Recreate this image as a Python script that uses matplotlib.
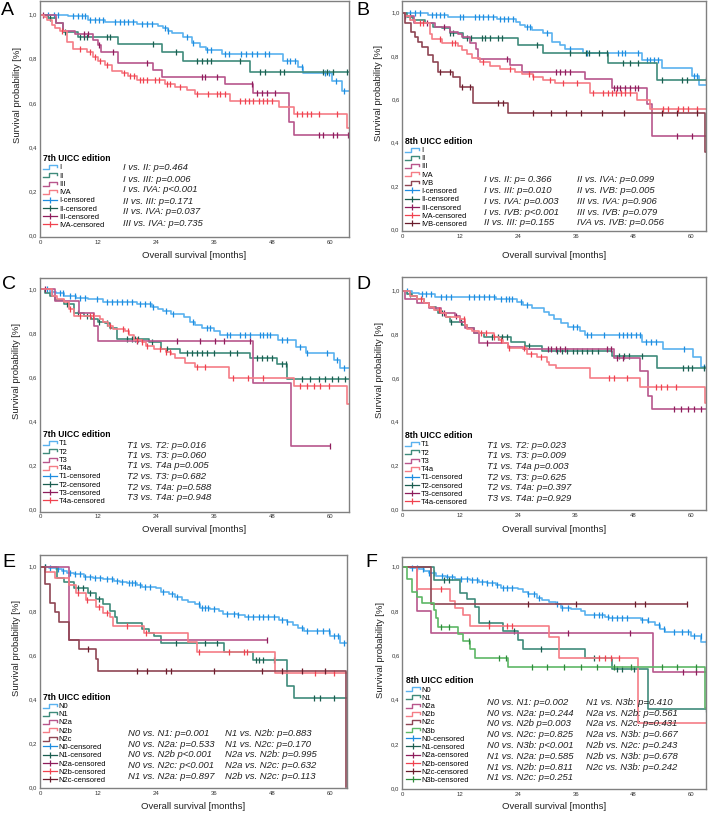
import numpy as np
import matplotlib
matplotlib.use('Agg')
import matplotlib.pyplot as plt
from matplotlib.lines import Line2D
from matplotlib.legend_handler import HandlerBase
from matplotlib.ticker import FuncFormatter

plt.rcParams['font.family'] = ['Liberation Sans', 'DejaVu Sans']

# ---------------- A: 7th UICC, stage ----------------
a_labels = ['I', 'II', 'III', 'IVA']
a_i_t = [5.8, 9.9, 13.4, 20, 24.4, 25.5, 26.5, 27.2, 29.6, 31.4, 33.1, 34.3, 37.6, 50.3, 53.4, 54.4, 60.3, 62.4]
a_i_s = [0.994, 0.976, 0.968, 0.958, 0.949, 0.938, 0.928, 0.916, 0.90, 0.87, 0.855, 0.84, 0.822, 0.791, 0.764, 0.737, 0.699, 0.655]
a_i_c = [1.7, 2.8, 3.8, 6.9, 7.9, 8.7, 9.3, 10.3, 11.4, 12.2, 13.0, 15.5, 16.6, 17.4, 18.3, 19.2, 21.1, 22.1, 23.2,
         25.9, 26.5, 30.3, 31.6, 34.5, 35.3, 38.3, 39.1, 41.5, 42.6, 43.8, 44.9, 46.6, 47.4, 51, 51.7, 52.8, 54.1,
         59, 59.8, 61.3, 62.9]
a_ii_t = [1.7, 3.3, 4.8, 7.9, 16.1, 25.2, 29.5, 43.5]
a_ii_s = [0.984, 0.961, 0.92, 0.897, 0.867, 0.832, 0.791, 0.738]
a_ii_c = [2.1, 5.2, 8.3, 9.0, 9.8, 13.8, 14.5, 23.4, 28.1, 32.4, 33.5, 34.5, 35.3, 41.4, 45.5, 46.6, 49.7, 50.5,
          58.6, 59.4, 60.6, 63.5]
a_iii_t = [3.4, 4.8, 7.2, 11, 12, 12.7, 16.1, 23.4, 25.2, 38.3, 44.1, 51.4, 52.6]
a_iii_s = [0.963, 0.927, 0.911, 0.885, 0.862, 0.832, 0.779, 0.749, 0.718, 0.684, 0.646, 0.514, 0.454]
a_iii_c = [0.7, 9, 10, 12.3, 15, 22.1, 33.5, 34.1, 36.5, 43.8, 44.8, 45.9, 47, 48.6, 57.6, 58.5, 60.6, 61.4, 63.6]
a_iva_t = [0.8, 1.4, 2.4, 3.1, 4.1, 5.5, 6.9, 9.7, 11, 12, 13.4, 14.8, 16.9, 18.2, 20, 25.8, 27.9, 30.3, 32,
           39.3, 49.5, 52.6, 63.5]
a_iva_s = [0.99, 0.976, 0.953, 0.938, 0.927, 0.877, 0.843, 0.832, 0.809, 0.791, 0.772, 0.746, 0.734, 0.722,
           0.703, 0.685, 0.670, 0.658, 0.640, 0.608, 0.579, 0.548, 0.487]
a_iva_c = [4.5, 8.3, 10.3, 11.4, 12.4, 13.8, 17.3, 18.6, 19.4, 20.7, 21.4, 22.1, 23.8, 24.6, 26.2, 26.9, 29,
           32.5, 34.8, 36.6, 37.2, 38.3, 41.4, 42.4, 43.3, 44.1, 45.2, 46.1, 47, 47.9, 53.2, 54.1, 55.2, 56,
           57.6, 61.4]
a_ends = [64, 64, 64, 64]
a_pvals = [['I vs. II: p=0.464', 'I vs. III: p=0.006', 'I vs. IVA: p<0.001',
            'II vs. III: p=0.171', 'II vs. IVA: p=0.037', 'III vs. IVA: p=0.735']]

# ---------------- B: 8th UICC, stage ----------------
b_labels = ['I', 'II', 'III', 'IVA', 'IVB']
b_i_t = [5.4, 9.5, 19.6, 23.7, 24.5, 25.5, 27, 29.3, 31, 32.7, 33.8, 37.6, 49.7, 53.9, 60.1, 61.5]
b_i_s = [0.989, 0.982, 0.971, 0.958, 0.943, 0.935, 0.92, 0.905, 0.866, 0.851, 0.831, 0.812, 0.782, 0.746, 0.708, 0.666]
b_i_c = [1.6, 2.6, 3.7, 6.1, 7, 7.8, 8.7, 12, 12.6, 15.1, 16, 16.8, 17.8, 18.8, 20.3, 21.1, 22, 23, 25.8, 26.5,
         30, 34.8, 38.3, 44.8, 45.5, 46.2, 49, 50.7, 51.4, 52.2, 53.1, 60.6, 61.1]
b_ii_t = [0.9, 2.3, 4.7, 6.4, 8.2, 9.9, 12.7, 24.1, 29.3, 42.8, 52.8]
b_ii_s = [0.982, 0.966, 0.951, 0.935, 0.928, 0.905, 0.882, 0.851, 0.815, 0.769, 0.689]
b_ii_c = [1.6, 9.9, 10.6, 13.4, 14.3, 16.5, 17.2, 18.2, 19.9, 20.6, 27.9, 34.8, 38.1, 38.8, 40.9, 42.5, 45.9,
          47.3, 49, 53.9, 58, 59, 63]
b_iii_t = [0.5, 2.5, 6.8, 9.9, 11.6, 12.3, 14.1, 15.2, 15.8, 22.4, 24.8, 37.9, 43.5, 50.7, 51.8]
b_iii_s = [0.985, 0.951, 0.935, 0.912, 0.9, 0.886, 0.862, 0.831, 0.785, 0.758, 0.728, 0.692, 0.651, 0.58, 0.43]
b_iii_c = [0.6, 5.1, 8.6, 21.7, 31.8, 32.7, 33.8, 34.8, 43.9, 44.6, 45.2, 46.2, 47.2, 48.3, 49, 57, 60.1]
b_iva_t = [0.6, 1.6, 2.6, 5.7, 6.1, 8.2, 11.6, 12.3, 13.4, 14.4, 16.1, 18.2, 20.3, 23.4, 24.8, 27.1, 29.3,
           31.7, 39, 48.7, 51.4]
b_iva_s = [0.985, 0.966, 0.951, 0.9, 0.878, 0.862, 0.846, 0.828, 0.808, 0.789, 0.774, 0.754, 0.74, 0.728,
           0.716, 0.705, 0.689, 0.677, 0.628, 0.597, 0.554]
b_iva_c = [3.7, 4.3, 7.8, 10.3, 10.9, 16.8, 22.4, 26.2, 27.1, 30.7, 33.4, 36.2, 39.5, 41.7, 42.6, 43.5, 44.4,
           45.3, 46.2, 47.3, 54.2, 55.2, 57.3, 58.2, 59.2, 61.1]
b_ivb_t = [0.6, 1.9, 2.6, 3.3, 4, 5.4, 6.4, 7.5, 10.6, 12, 14.7, 22, 62.9]
b_ivb_s = [0.951, 0.912, 0.89, 0.866, 0.843, 0.805, 0.774, 0.728, 0.705, 0.658, 0.582, 0.535, 0.358]
b_ivb_c = [7.8, 9.9, 12.3, 14.1, 19.9, 20.8, 27.2, 30.8, 33.9, 37, 41.5, 46, 54, 57.1, 61.2]
b_ends = [64, 64, 64, 64, 64]
b_pvals = [['I vs. II: p= 0.366', 'I vs. III: p=0.010', 'I vs. IVA: p=0.003', 'I vs. IVB: p<0.001',
            'II vs. III: p=0.155'],
           ['II vs. IVA: p=0.099', 'II vs. IVB: p=0.005', 'III vs. IVA: p=0.906', 'III vs. IVB: p=0.079',
            'IVA vs. IVB: p=0.056']]

# ---------------- C: 7th UICC, T ----------------
c_labels = ['T1', 'T2', 'T3', 'T4a']
c_t1_t = [2.1, 3.4, 5, 7.5, 9.9, 13.1, 20, 23.1, 24.5, 25.5, 27.1, 29.7, 31, 32.1, 33.4, 35.9, 37.2, 49.2, 53,
          55, 60.7, 62.1]
c_t1_s = [0.989, 0.982, 0.97, 0.962, 0.955, 0.941, 0.932, 0.917, 0.91, 0.9, 0.889, 0.875, 0.853, 0.838, 0.823,
          0.811, 0.792, 0.77, 0.739, 0.71, 0.677, 0.641]
c_t1_c = [1.4, 2.4, 4.1, 4.8, 6.2, 7.2, 8.3, 9.3, 11.7, 13.8, 14.8, 15.9, 16.9, 17.9, 19, 20.7, 21.7, 22.8,
          23.4, 26, 27.6, 31.7, 34.5, 35.2, 38.6, 39.3, 41.4, 42.4, 43.4, 45.5, 46.2, 46.9, 47.6, 50, 51, 53.8,
          55.2, 59.3, 61.5, 62.9]
c_t2_t = [1, 2, 3, 5, 7, 9, 10.5, 12, 13.5, 14.5, 16, 22.5, 25, 29, 43.5, 49, 51]
c_t2_s = [0.982, 0.97, 0.952, 0.932, 0.891, 0.879, 0.864, 0.853, 0.845, 0.823, 0.773, 0.761, 0.729, 0.709,
          0.686, 0.661, 0.591]
c_t2_c = [5.5, 7.9, 9.7, 12.1, 13.8, 17.9, 19, 19.7, 20.3, 23.1, 26.2, 30.3, 31.4, 32.4, 33.4, 34.5, 35.9,
          39.3, 40.7, 44.8, 45.9, 46.9, 47.9, 50, 50.9, 54.1, 55.9, 57.6, 59, 60.3, 61.7, 63.1]
c_t3_t = [3, 8, 11.2, 12, 44, 52]
c_t3_s = [0.945, 0.891, 0.833, 0.767, 0.576, 0.288]
c_t3_c = [1, 20, 28.3, 33.1, 36.2, 38.1, 43.4, 60]
c_t4a_t = [2.5, 3.5, 5, 6, 7, 12.5, 13, 14, 15, 17.5, 18.5, 19.5, 21, 22, 23.5, 26, 27, 28, 30, 32, 39, 52.5, 63.5]
c_t4a_s = [0.97, 0.955, 0.944, 0.909, 0.879, 0.865, 0.853, 0.833, 0.818, 0.808, 0.792, 0.77, 0.758, 0.742,
           0.729, 0.717, 0.706, 0.686, 0.664, 0.648, 0.595, 0.561, 0.479]
c_t4a_c = [6.2, 8.3, 10.3, 11, 14.5, 17.2, 18.3, 20, 21, 22.1, 24.8, 26, 26.9, 32.4, 34.1, 40, 43.1, 46.2,
           53.8, 55.2, 56.6, 57.9, 59.7]
c_ends = [64, 64, 60, 64]
c_pvals = [['T1 vs. T2: p=0.016', 'T1 vs. T3: p=0.060', 'T1 vs. T4a p=0.005', 'T2 vs. T3: p=0.682',
            'T2 vs. T4a: p=0.588', 'T3 vs. T4a: p=0.948']]

# ---------------- D: 8th UICC, T ----------------
d_labels = ['T1', 'T2', 'T3', 'T4a']
d_t1_t = [2.1, 3.5, 6.9, 19.4, 23.9, 25, 27, 29.5, 30.5, 31.6, 32.9, 34.5, 37, 38, 49.9, 54.1, 60.5, 62.1]
d_t1_s = [0.991, 0.983, 0.973, 0.96, 0.95, 0.934, 0.919, 0.904, 0.889, 0.869, 0.85, 0.835, 0.815, 0.797,
          0.766, 0.731, 0.695, 0.652]
d_t1_c = [1, 4, 4.9, 5.9, 8, 9, 10.1, 13.9, 14.9, 15.9, 17, 18, 19.1, 20.5, 21.5, 22.2, 22.9, 24.6, 26, 35.4,
          36.4, 38.5, 39.3, 42, 45.1, 45.8, 46.7, 47.5, 48.5, 49.4, 50.6, 51.7, 52.7, 58.6, 62.8]
d_t2_t = [1, 2, 3, 4.5, 5.5, 7, 7.5, 9, 10, 12.5, 13.5, 15, 17, 22.5, 25.5, 29, 43.5, 53]
d_t2_s = [0.985, 0.975, 0.96, 0.942, 0.927, 0.91, 0.896, 0.881, 0.858, 0.843, 0.827, 0.805, 0.789, 0.766,
          0.747, 0.725, 0.701, 0.644]
d_t2_c = [1.5, 8.3, 10.1, 12.1, 18.7, 19.8, 20.8, 21.8, 26.4, 32.2, 33.3, 34.3, 35.4, 36.4, 37.4, 38.5, 39.5,
          40.6, 45.1, 46.1, 47.2, 49.9, 58.3, 59.3, 60.3, 62.8]
d_t3_t = [0.5, 3, 5.5, 8, 11, 12, 13, 15, 16, 22, 25, 44, 49.5, 51, 52]
d_t3_s = [0.96, 0.942, 0.919, 0.896, 0.884, 0.858, 0.827, 0.808, 0.759, 0.74, 0.734, 0.69, 0.632, 0.515, 0.456]
d_t3_c = [8.7, 11.1, 17.7, 30.2, 31, 31.9, 32.8, 33.8, 42.6, 43.3, 44.7, 45.8, 56.5, 57.9, 59.3, 60.7, 62.1]
d_t4a_t = [1.5, 3, 4.5, 5.5, 6.5, 8, 9, 12, 13, 13.5, 14.5, 16, 19, 20, 21, 22, 26, 28, 30, 30.5, 32, 39,
           49.5, 63]
d_t4a_s = [0.976, 0.96, 0.942, 0.925, 0.911, 0.896, 0.881, 0.869, 0.843, 0.824, 0.815, 0.805, 0.789, 0.774,
           0.759, 0.736, 0.71, 0.695, 0.672, 0.658, 0.644, 0.598, 0.557, 0.484]
d_t4a_c = [3.8, 7.6, 12.8, 16.3, 17.3, 19.1, 20.5, 22.2, 25.3, 26.7, 28.8, 43, 44, 46.8, 52.7, 53.7, 55.1, 56.9]
d_ends = [64, 64, 64, 64]
d_pvals = [['T1 vs. T2: p=0.023', 'T1 vs. T3: p=0.009', 'T1 vs. T4a p=0.003', 'T2 vs. T3: p=0.625',
            'T2 vs. T4a: p=0.397', 'T3 vs. T4a: p=0.929']]

# ---------------- E: 7th UICC, N ----------------
e_labels = ['N0', 'N1', 'N2a', 'N2b', 'N2c']
e_n0_t = [1.9, 3.4, 4.5, 5.5, 7, 9, 11, 13.1, 15.2, 16.6, 17.9, 20, 21, 24, 25, 26.6, 27.9, 29.3, 30.5, 32.1,
          33.1, 35.2, 36.9, 37.9, 41, 42.4, 49.5, 51, 52.4, 53.4, 54.5, 60, 62.1]
e_n0_s = [0.995, 0.991, 0.98, 0.97, 0.965, 0.955, 0.95, 0.944, 0.935, 0.929, 0.924, 0.915, 0.909, 0.902, 0.885,
          0.876, 0.861, 0.849, 0.84, 0.829, 0.814, 0.81, 0.801, 0.785, 0.781, 0.77, 0.758, 0.751, 0.736, 0.721,
          0.708, 0.686, 0.656]
e_n0_c = [1, 2.1, 3.8, 4.8, 6.2, 7.2, 8.3, 9.3, 10.3, 11.4, 12.4, 13.8, 14.8, 15.9, 16.9, 18.3, 19, 19.7, 20.7,
          21.7, 22.8, 25.5, 27.2, 28.3, 32.8, 33.4, 34.1, 34.8, 35.9, 38.6, 40, 41, 43.1, 44.1, 45.2, 46.2, 47.2,
          48.3, 50, 51, 54.1, 55.2, 57.2, 58.6, 59.7, 60.7, 61.7, 62.8]
e_n1_t = [3.5, 5, 7, 10, 11.5, 13, 14.5, 15.5, 16, 21, 22.5, 23.5, 25, 38, 44, 51, 52.5]
e_n1_s = [0.95, 0.929, 0.905, 0.879, 0.853, 0.829, 0.799, 0.773, 0.746, 0.716, 0.698, 0.686, 0.656, 0.615,
          0.577, 0.461, 0.403]
e_n1_c = [1, 7.9, 8.8, 10.3, 12.1, 28.1, 34.1, 36.6, 44.6, 45.2, 46.2, 48.3, 56.6, 57.9, 60.7]
e_n2a_t = [6]
e_n2a_s = [0.668]
e_n2a_c = [47]
e_n2b_t = [1, 3, 6, 7.5, 9.5, 11.5, 13, 14.5, 15, 21.5, 30.5, 32.5, 48.5]
e_n2b_s = [0.974, 0.95, 0.917, 0.879, 0.849, 0.819, 0.792, 0.77, 0.731, 0.698, 0.66, 0.615, 0.517]
e_n2b_c = [7.9, 9.8, 12.1, 13.8, 17.9, 21.9, 32.8, 39, 42.1, 42.8, 56.9, 60.7]
e_n2c_t = [1, 2, 3, 4, 6, 8, 11.5, 12, 63.3]
e_n2c_s = [0.92, 0.834, 0.796, 0.751, 0.668, 0.625, 0.58, 0.527, 0.0]
e_n2c_c = [10, 20, 22.1, 26, 27, 35.9, 45.9, 50, 54.1, 59]
e_ends = [64, 64, 47, 64, 63.3]
e_pvals = [['N0 vs. N1: p=0.001', 'N0 vs. N2a: p=0.533', 'N0 vs. N2b p<0.001', 'N0 vs. N2c: p<0.001',
            'N1 vs. N2a: p=0.897'],
           ['N1 vs. N2b: p=0.883', 'N1 vs. N2c: p=0.170', 'N2a vs. N2b: p=0.995', 'N2a vs. N2c: p=0.632',
            'N2b vs. N2c: p=0.113']]

# ---------------- F: 8th UICC, N ----------------
f_labels = ['N0', 'N1', 'N2a', 'N2b', 'N2c', 'N3b']
f_n0_t = [1.7, 3.5, 4.5, 5.5, 7, 9, 11, 14, 16, 17.5, 19.5, 20.5, 24, 25, 26, 28, 29, 30.5, 32, 33, 35, 37, 38,
          42, 43, 49.5, 51, 52.5, 53.5, 54.5, 60, 62]
f_n0_s = [0.995, 0.99, 0.98, 0.97, 0.96, 0.955, 0.945, 0.94, 0.93, 0.925, 0.915, 0.905, 0.9, 0.885, 0.875, 0.86,
          0.85, 0.84, 0.83, 0.815, 0.81, 0.8, 0.78, 0.775, 0.77, 0.76, 0.75, 0.735, 0.72, 0.705, 0.685, 0.66]
f_n0_c = [2.1, 3.1, 4.2, 5.5, 6.6, 8.3, 9.3, 10.4, 12.1, 13.5, 14.5, 15.6, 16.6, 17.6, 18.7, 19.7, 20.8, 21.8,
          22.8, 26, 27.3, 28.4, 32.2, 33.2, 34.3, 39.8, 40.8, 41.5, 42.6, 43.6, 44.6, 45.7, 46.7, 49.8, 50.9,
          53.3, 54.3, 56.4, 58.1, 59.2, 60.6, 61.9, 63]
f_n1_t = [6.5, 12, 13.5, 15, 16, 21, 24, 25, 38, 43.5, 51]
f_n1_s = [0.94, 0.88, 0.853, 0.82, 0.747, 0.711, 0.669, 0.627, 0.586, 0.54, 0.356]
f_n1_c = [8.7, 9.7, 18, 23.2, 28.7, 39.8, 44.6, 45.7, 48.1, 63]
f_n2a_t = [3, 6, 52]
f_n2a_s = [0.8, 0.7, 0.526]
f_n2a_c = [34.3, 47.3, 58.3, 61]
f_n2b_t = [3, 10, 11, 12.5, 14, 30.5, 32.5, 49]
f_n2b_s = [0.899, 0.847, 0.815, 0.782, 0.734, 0.684, 0.589, 0.296]
f_n2b_c = [8.1, 18, 21.8, 22.8, 40.8, 42.1, 43.3, 44.9]
f_n2c_t = [6]
f_n2c_s = [0.83]
f_n2c_c = [26.1, 36, 48.3, 50.4, 59]
f_n3b_t = [1, 2, 3, 4, 6.5, 7, 7.5, 11.5, 12.5, 14, 15, 22, 62.9]
f_n3b_s = [0.944, 0.887, 0.862, 0.835, 0.805, 0.77, 0.729, 0.696, 0.666, 0.627, 0.589, 0.546, 0.361]
f_n3b_c = [8.1, 9.7, 13.8, 20.1, 21.5, 27, 30.1, 33.6, 37, 40.5, 43.9, 47.4, 54, 57.1, 60.9]
f_ends = [64, 64, 64, 64, 59, 64]
f_pvals = [['N0 vs. N1: p=0.002', 'N0 vs. N2a: p=0.244', 'N0 vs. N2b p=0.003', 'N0 vs. N2c: p=0.825',
            'N0 vs. N3b: p<0.001', 'N1 vs. N2a: p=0.585', 'N1 vs. N2b: p=0.811', 'N1 vs. N2c: p=0.251'],
           ['N1 vs. N3b: p=0.410', 'N2a vs. N2b: p=0.561', 'N2a vs. N2c: p=0.431', 'N2a vs. N3b: p=0.667',
            'N2b vs. N2c: p=0.243', 'N2b vs. N3b: p=0.678', 'N2c vs. N3b: p=0.242']]

# line colour / censor-mark colour
LINE = {'blue': '#5ab2ef', 'teal': '#3f8b7b', 'purple': '#b8568c', 'salmon': '#f57d86',
        'maroon': '#8f4654', 'green': '#5db866'}
MARK = {'blue': '#1e8de0', 'teal': '#1b5e50', 'purple': '#8e1d5c', 'salmon': '#f0424f',
        'maroon': '#6a1d2c', 'green': '#2e8b3b'}

W, H = 708, 814
fig = plt.figure(figsize=(W / 100, H / 100), dpi=100)


class StepHandler(HandlerBase):
    def create_artists(self, legend, orig, xd, yd, w, h, fs, trans):
        x0, y0 = -xd, -yd
        xs = [x0, x0 + 0.45 * w, x0 + 0.45 * w, x0 + w, x0 + w]
        ys = [y0 + 0.1 * h, y0 + 0.1 * h, y0 + 0.8 * h, y0 + 0.8 * h, y0 + 0.45 * h]
        return [Line2D(xs, ys, color=orig.get_color(), lw=1.0, transform=trans)]


def panel(rect, xmax, ylim, letter, letter_xy, title, labels, curves, ends, colors,
          pvals, pcol_x, prow0, pstep, leg_xy, ylab_x, xlab_y):
    l, t, r, b = rect
    ax = fig.add_axes([l / W, 1 - b / H, (r - l) / W, (b - t) / H])
    handles, cens = [], []
    for (tt, ss, cc), end, col in zip(curves, ends, colors):
        tt = np.asarray(tt, float)
        ss = np.asarray(ss, float)
        cc = np.asarray(cc, float)
        x = np.concatenate([[0], tt, [end]])
        y = np.concatenate([[1.0], ss, [ss[-1]]])
        ln, = ax.plot(x, y, drawstyle='steps-post', color=LINE[col], lw=1.2)
        cy = np.concatenate([[1.0], ss])[np.searchsorted(tt, cc, side='right')]
        ax.plot(cc, cy, ls='none', marker='|', ms=4.5, mew=0.9, color=MARK[col])
        handles.append(ln)
        cens.append(Line2D([], [], color=MARK[col], lw=0.9, marker='|', ms=4.5, mew=0.9))

    ax.set_xlim(0, xmax)
    ax.set_ylim(*ylim)
    ax.set_xticks(range(0, 61, 12))
    ax.set_yticks(np.arange(0, 1.01, 0.2))
    ax.yaxis.set_major_formatter(FuncFormatter(lambda v, p: f'{v:.1f}'.replace('.', ',')))
    ax.tick_params(length=0, labelsize=4.3, pad=2, labelcolor='#333333')
    for sp in ax.spines.values():
        sp.set_color('#808080')
        sp.set_linewidth(1.0)

    ax.set_xlabel('Overall survival [months]', fontsize=6.8, color='#222222', va='center')
    ax.set_ylabel('Survival probability [%]', fontsize=6.8, color='#222222', va='center')
    ax.xaxis.set_label_coords(0.5, (b - xlab_y) / (b - t))
    ax.yaxis.set_label_coords((ylab_x - l) / (r - l), 0.6)

    ax.legend(handles + cens, labels + [lab + '-censored' for lab in labels],
              handler_map={h: StepHandler() for h in handles},
              loc='lower left', bbox_to_anchor=(leg_xy[0] / W, 1 - leg_xy[1] / H),
              bbox_transform=fig.transFigure, frameon=False, fontsize=5.4,
              title=title, title_fontproperties={'weight': 'bold', 'size': 6.2},
              alignment='left', handlelength=1.9, handleheight=0.8, handletextpad=0.2,
              labelspacing=0.1, borderpad=0, borderaxespad=0)

    for cx, col in zip(pcol_x, pvals):
        for i, txt in enumerate(col):
            fig.text(cx / W, 1 - (prow0 + i * pstep) / H, txt, style='italic', fontsize=6.8,
                     va='center', ha='left', color='#222222')

    fig.text(letter_xy[0] / W, 1 - letter_xy[1] / H, letter, fontsize=14, va='top', ha='left')
    return ax


panel((40, 1, 349, 237.2), 63.9, (-0.01, 1.062), 'A', (1, 2), '7th UICC edition', a_labels,
      [(a_i_t, a_i_s, a_i_c), (a_ii_t, a_ii_s, a_ii_c), (a_iii_t, a_iii_s, a_iii_c),
       (a_iva_t, a_iva_s, a_iva_c)],
      a_ends, ['blue', 'teal', 'purple', 'salmon'],
      a_pvals, [123], 168, 11, (43, 229), 17.5, 255)

panel((402.3, 1, 706.3, 231), 63.1, (-0.008, 1.054), 'B', (356, 2), '8th UICC edition', b_labels,
      [(b_i_t, b_i_s, b_i_c), (b_ii_t, b_ii_s, b_ii_c), (b_iii_t, b_iii_s, b_iii_c),
       (b_iva_t, b_iva_s, b_iva_c), (b_ivb_t, b_ivb_s, b_ivb_c)],
      b_ends, ['blue', 'teal', 'purple', 'salmon', 'maroon'],
      b_pvals, [484, 577], 180, 10.7, (405, 228), 378, 255)

panel((40, 278, 349, 511.5), 63.9, (-0.01, 1.051), 'C', (2, 276), '7th UICC edition', c_labels,
      [(c_t1_t, c_t1_s, c_t1_c), (c_t2_t, c_t2_s, c_t2_c), (c_t3_t, c_t3_s, c_t3_c),
       (c_t4a_t, c_t4a_s, c_t4a_c)],
      c_ends, ['blue', 'teal', 'purple', 'salmon'],
      c_pvals, [127], 445, 10.5, (43, 505), 17, 529)

panel((402.3, 277.3, 706.3, 510), 63.2, (-0.005, 1.061), 'D', (356, 276), '8th UICC edition', d_labels,
      [(d_t1_t, d_t1_s, d_t1_c), (d_t2_t, d_t2_s, d_t2_c), (d_t3_t, d_t3_s, d_t3_c),
       (d_t4a_t, d_t4a_s, d_t4a_c)],
      d_ends, ['blue', 'teal', 'purple', 'salmon'],
      d_pvals, [487], 445, 10.7, (405, 506), 379, 529)

panel((40, 555, 346.7, 788.3), 63.4, (-0.005, 1.053), 'E', (2, 554), '7th UICC edition', e_labels,
      [(e_n0_t, e_n0_s, e_n0_c), (e_n1_t, e_n1_s, e_n1_c), (e_n2a_t, e_n2a_s, e_n2a_c),
       (e_n2b_t, e_n2b_s, e_n2b_c), (e_n2c_t, e_n2c_s, e_n2c_c)],
      e_ends, ['blue', 'teal', 'purple', 'salmon', 'maroon'],
      e_pvals, [128, 225], 733.3, 10.8, (43, 784), 17, 806.7)

panel((402.3, 556.7, 706.3, 789.3), 63.1, (-0.005, 1.045), 'F', (365, 554), '8th UICC edition', f_labels,
      [(f_n0_t, f_n0_s, f_n0_c), (f_n1_t, f_n1_s, f_n1_c), (f_n2a_t, f_n2a_s, f_n2a_c),
       (f_n2b_t, f_n2b_s, f_n2b_c), (f_n2c_t, f_n2c_s, f_n2c_c), (f_n3b_t, f_n3b_s, f_n3b_c)],
      f_ends, ['blue', 'teal', 'purple', 'salmon', 'maroon', 'green'],
      f_pvals, [487, 586], 702.3, 10.8, (406, 784), 380, 806.7)

fig.savefig('out.png', dpi=100)
